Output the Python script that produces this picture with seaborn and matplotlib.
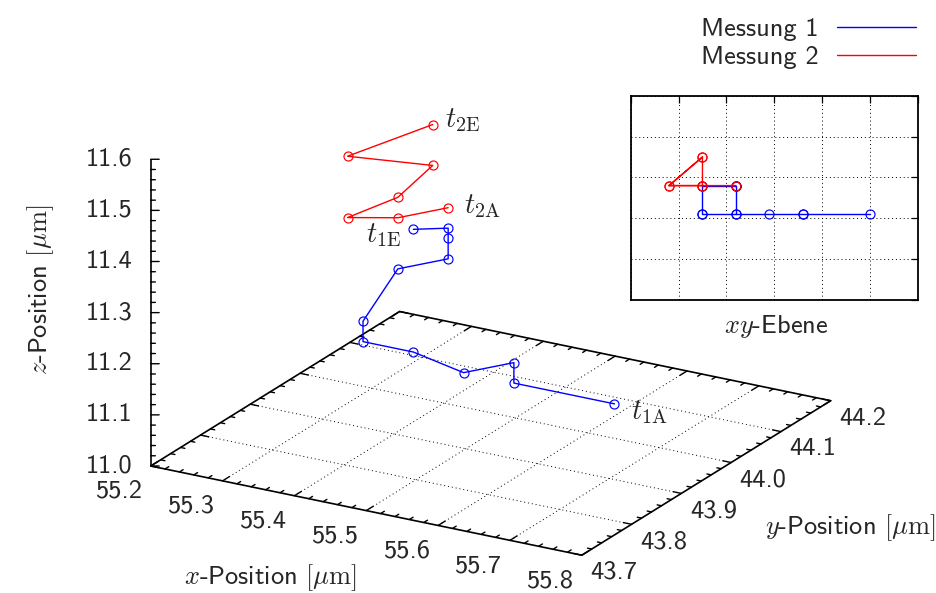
import numpy as np
import pandas as pd
import matplotlib
matplotlib.use("Agg")
import matplotlib.pyplot as plt
import seaborn as sns
from matplotlib.lines import Line2D
from matplotlib.transforms import offset_copy
from mpl_toolkits.mplot3d import proj3d

# ---------------- data ----------------
series_names = ["Messung 1", "Messung 2"]
series_colors = ["#0000ff", "#ff0000"]

x_m1 = [55.70, 55.56, 55.56, 55.49, 55.42, 55.35, 55.35, 55.35, 55.42, 55.42, 55.42, 55.42]
y_m1 = [43.91, 43.91, 43.91, 43.91, 43.91, 43.91, 43.91, 43.98, 43.98, 43.98, 43.98, 43.91]
z_m1 = [11.14, 11.14, 11.18, 11.14, 11.16, 11.16, 11.20, 11.26, 11.30, 11.34, 11.36, 11.40]

x_m2 = [55.42, 55.35, 55.28, 55.35, 55.35, 55.28, 55.35]
y_m2 = [43.98, 43.98, 43.98, 43.98, 44.05, 43.98, 44.05]
z_m2 = [11.40, 11.36, 11.34, 11.40, 11.42, 11.46, 11.50]

x_ticks = [55.2, 55.3, 55.4, 55.5, 55.6, 55.7, 55.8]
y_ticks = [43.7, 43.8, 43.9, 44.0, 44.1, 44.2]
z_ticks = [11.0, 11.1, 11.2, 11.3, 11.4, 11.5, 11.6]
x_tick_labels = ["55.2", "55.3", "55.4", "55.5", "55.6", "55.7", "55.8"]
y_tick_labels = ["43.7", "43.8", "43.9", "44.0", "44.1", "44.2"]
z_tick_labels = ["11.0", "11.1", "11.2", "11.3", "11.4", "11.5", "11.6"]
minor_step = 0.02

end_labels = [r"$t_{1\mathrm{A}}$", r"$t_{1\mathrm{E}}$", r"$t_{2\mathrm{A}}$", r"$t_{2\mathrm{E}}$"]

x_label = r"$x$-Position $[\mu\mathrm{m}]$"
y_label = r"$y$-Position $[\mu\mathrm{m}]$"
z_label = r"$z$-Position $[\mu\mathrm{m}]$"
inset_label = r"$xy$-Ebene"

# ---------------- style ----------------
sns.set_theme(style="white")
plt.rcParams["font.family"] = ["cmss10", "DejaVu Sans"]
plt.rcParams["mathtext.fontset"] = "cm"
plt.rcParams["axes.unicode_minus"] = False
FS = 19
FS_T = 20.5

W_PX, H_PX = 936, 593
fig = plt.figure(figsize=(W_PX / 100, H_PX / 100), dpi=100)
fig.patch.set_facecolor("white")

# ---------------- 3D axes ----------------
ax = fig.add_axes([0.0, 0.0, 0.6, 0.9], projection="3d", proj_type="ortho")
ax.view_init(elev=21, azim=-60)
ax.set_box_aspect((1, 1, 0.66))
xlim = (x_ticks[0], x_ticks[-1])
ylim = (y_ticks[0], y_ticks[-1])
zlim = (z_ticks[0], z_ticks[-1])
ax.set_xlim(*xlim)
ax.set_ylim(*ylim)
ax.set_zlim(*zlim)
ax.set_axis_off()
ax.patch.set_alpha(0)
ax.computed_zorder = False

z0 = zlim[0]
edge_kw = dict(color="black", lw=1.2, zorder=3, solid_capstyle="butt")
ax.plot([xlim[0], xlim[1], xlim[1], xlim[0], xlim[0]],
        [ylim[0], ylim[0], ylim[1], ylim[1], ylim[0]],
        [z0] * 5, **edge_kw)
ax.plot([xlim[0], xlim[0]], [ylim[0], ylim[0]], [zlim[0], zlim[1]], **edge_kw)

grid_kw = dict(color="black", lw=0.7, ls=(0, (1, 3)), zorder=2)
for xv in x_ticks[1:-1]:
    ax.plot([xv, xv], [ylim[0], ylim[1]], [z0, z0], **grid_kw)
for yv in y_ticks[1:-1]:
    ax.plot([xlim[0], xlim[1]], [yv, yv], [z0, z0], **grid_kw)

def minor_vals(lo, hi):
    return np.round(np.arange(lo, hi + 1e-9, minor_step), 4)

tick_kw = dict(color="black", lw=1.0, zorder=3)
for xv in minor_vals(*xlim):
    major = np.any(np.isclose(xv, x_ticks))
    L = 0.014 if major else 0.0075
    ax.plot([xv, xv], [ylim[0], ylim[0] + L], [z0, z0], **tick_kw)
    ax.plot([xv, xv], [ylim[1], ylim[1] - L], [z0, z0], **tick_kw)
for yv in minor_vals(*ylim):
    major = np.any(np.isclose(yv, y_ticks))
    L = 0.0115 if major else 0.006
    ax.plot([xlim[1], xlim[1] - L], [yv, yv], [z0, z0], **tick_kw)
    ax.plot([xlim[0], xlim[0] + L], [yv, yv], [z0, z0], **tick_kw)
for zv in minor_vals(*zlim):
    major = np.any(np.isclose(zv, z_ticks))
    f = 1.0 if major else 0.55
    ax.plot([xlim[0], xlim[0] + 0.0088 * f], [ylim[0], ylim[0] + 0.0043 * f], [zv, zv], **tick_kw)

line_kw = dict(lw=1.0, marker="o", ms=6.5, mfc="none", mew=0.85, zorder=5)
ax.plot(x_m1, y_m1, z_m1, color=series_colors[0], **line_kw)
ax.plot(x_m2, y_m2, z_m2, color=series_colors[1], **line_kw)

# projected (2D) positions for texts
fig.canvas.draw()
M = ax.get_proj()

def proj2d(x, y, z):
    px, py, _ = proj3d.proj_transform(np.array([x], float), np.array([y], float), np.array([z], float), M)
    return float(px[0]), float(py[0])

def off(dx, dy):
    return offset_copy(ax.transData, fig=fig, x=dx, y=dy, units="dots")

for xv, lab in zip(x_ticks, x_tick_labels):
    px, py = proj2d(xv, ylim[0], z0)
    ax.text2D(px, py, lab, transform=off(-31, -25.5), ha="center", va="center", fontsize=FS)
for yv, lab in zip(y_ticks, y_tick_labels):
    px, py = proj2d(xlim[1], yv, z0)
    ax.text2D(px, py, lab, transform=off(32, -17.3), ha="center", va="center", fontsize=FS)
for zv, lab in zip(z_ticks, z_tick_labels):
    px, py = proj2d(xlim[0], ylim[0], zv)
    ax.text2D(px, py, lab, transform=off(-18, 0), ha="right", va="center", fontsize=FS)

ends = [(x_m1[0], y_m1[0], z_m1[0]), (x_m1[-1], y_m1[-1], z_m1[-1]),
        (x_m2[0], y_m2[0], z_m2[0]), (x_m2[-1], y_m2[-1], z_m2[-1])]
end_layout = [((17, -8), "left"), ((-12, -5.5), "right"), ((15.5, 2), "left"), ((12, 4), "left")]
for (ex, ey, ez), lab, ((dx, dy), ha) in zip(ends, end_labels, end_layout):
    px, py = proj2d(ex, ey, ez)
    ax.text2D(px, py, lab, transform=off(dx, dy), ha=ha, va="center", fontsize=FS_T)

# ---------------- axis labels ----------------
fig.text(41 / W_PX, 1 - 290 / H_PX, z_label, rotation=90, ha="center", va="center", fontsize=FS)
fig.text(270 / W_PX, 1 - 578 / H_PX, x_label, ha="center", va="center", fontsize=FS)
fig.text(850 / W_PX, 1 - 528 / H_PX, y_label, ha="center", va="center", fontsize=FS)

# ---------------- inset xy-plane ----------------
ax2 = fig.add_axes([630.7 / W_PX, 1 - 300 / H_PX, 287 / W_PX, 204.3 / H_PX])
inset_kw = dict(sort=False, estimator=None, marker="o", markersize=6.5, markerfacecolor="none",
                markeredgewidth=0.85, linewidth=1.0)
sns.lineplot(x=x_m1, y=y_m1, color=series_colors[0], markeredgecolor=series_colors[0], ax=ax2, **inset_kw)
sns.lineplot(x=x_m2, y=y_m2, color=series_colors[1], markeredgecolor=series_colors[1], ax=ax2, **inset_kw)
ax2.set_xlim(*xlim)
ax2.set_ylim(*ylim)
ax2.set_xticks(x_ticks)
ax2.set_yticks(y_ticks)
ax2.grid(True, color="black", lw=0.7, ls=(0, (1, 3)))
ax2.tick_params(direction="in", top=True, right=True, length=5, width=0.9, color="black",
                labelbottom=False, labelleft=False)
for sp in ax2.spines.values():
    sp.set_color("black")
    sp.set_linewidth(1.3)
ax2.set_xlabel("")
ax2.set_ylabel("")
ax2.set_facecolor("white")
fig.text(776 / W_PX, 1 - 327 / H_PX, inset_label, ha="center", va="center", fontsize=FS)

# ---------------- legend ----------------
handles = [Line2D([], [], color=c, lw=1.0) for c in series_colors]
fig.legend(handles, series_names, loc="upper right", bbox_to_anchor=(916 / W_PX, 1 - 18 / H_PX),
           frameon=False, markerfirst=False, handlelength=3.0, handletextpad=0.7,
           labelspacing=0.15, borderpad=0, borderaxespad=0, fontsize=FS)

# ---------------- place 3D box to match target geometry ----------------
def to_disp(x, y, z):
    return np.array(ax.transData.transform(proj2d(x, y, z)))

A = to_disp(xlim[0], ylim[0], z0)
B = to_disp(xlim[1], ylim[0], z0)
At = np.array([150.7, H_PX - 466.0])
Bt = np.array([581.7, H_PX - 555.7])
s = np.linalg.norm(Bt - At) / np.linalg.norm(B - A)
bb = ax.get_position()
x0, y0, w, h = bb.x0 * W_PX, bb.y0 * H_PX, bb.width * W_PX, bb.height * H_PX
r = (A - np.array([x0, y0])) / np.array([w, h])
nw, nh = w * s, h * s
nx0 = At[0] - r[0] * nw
ny0 = At[1] - r[1] * nh
ax.set_position([nx0 / W_PX, ny0 / H_PX, nw / W_PX, nh / H_PX])

fig.savefig("out.png", dpi=100, facecolor="white")
